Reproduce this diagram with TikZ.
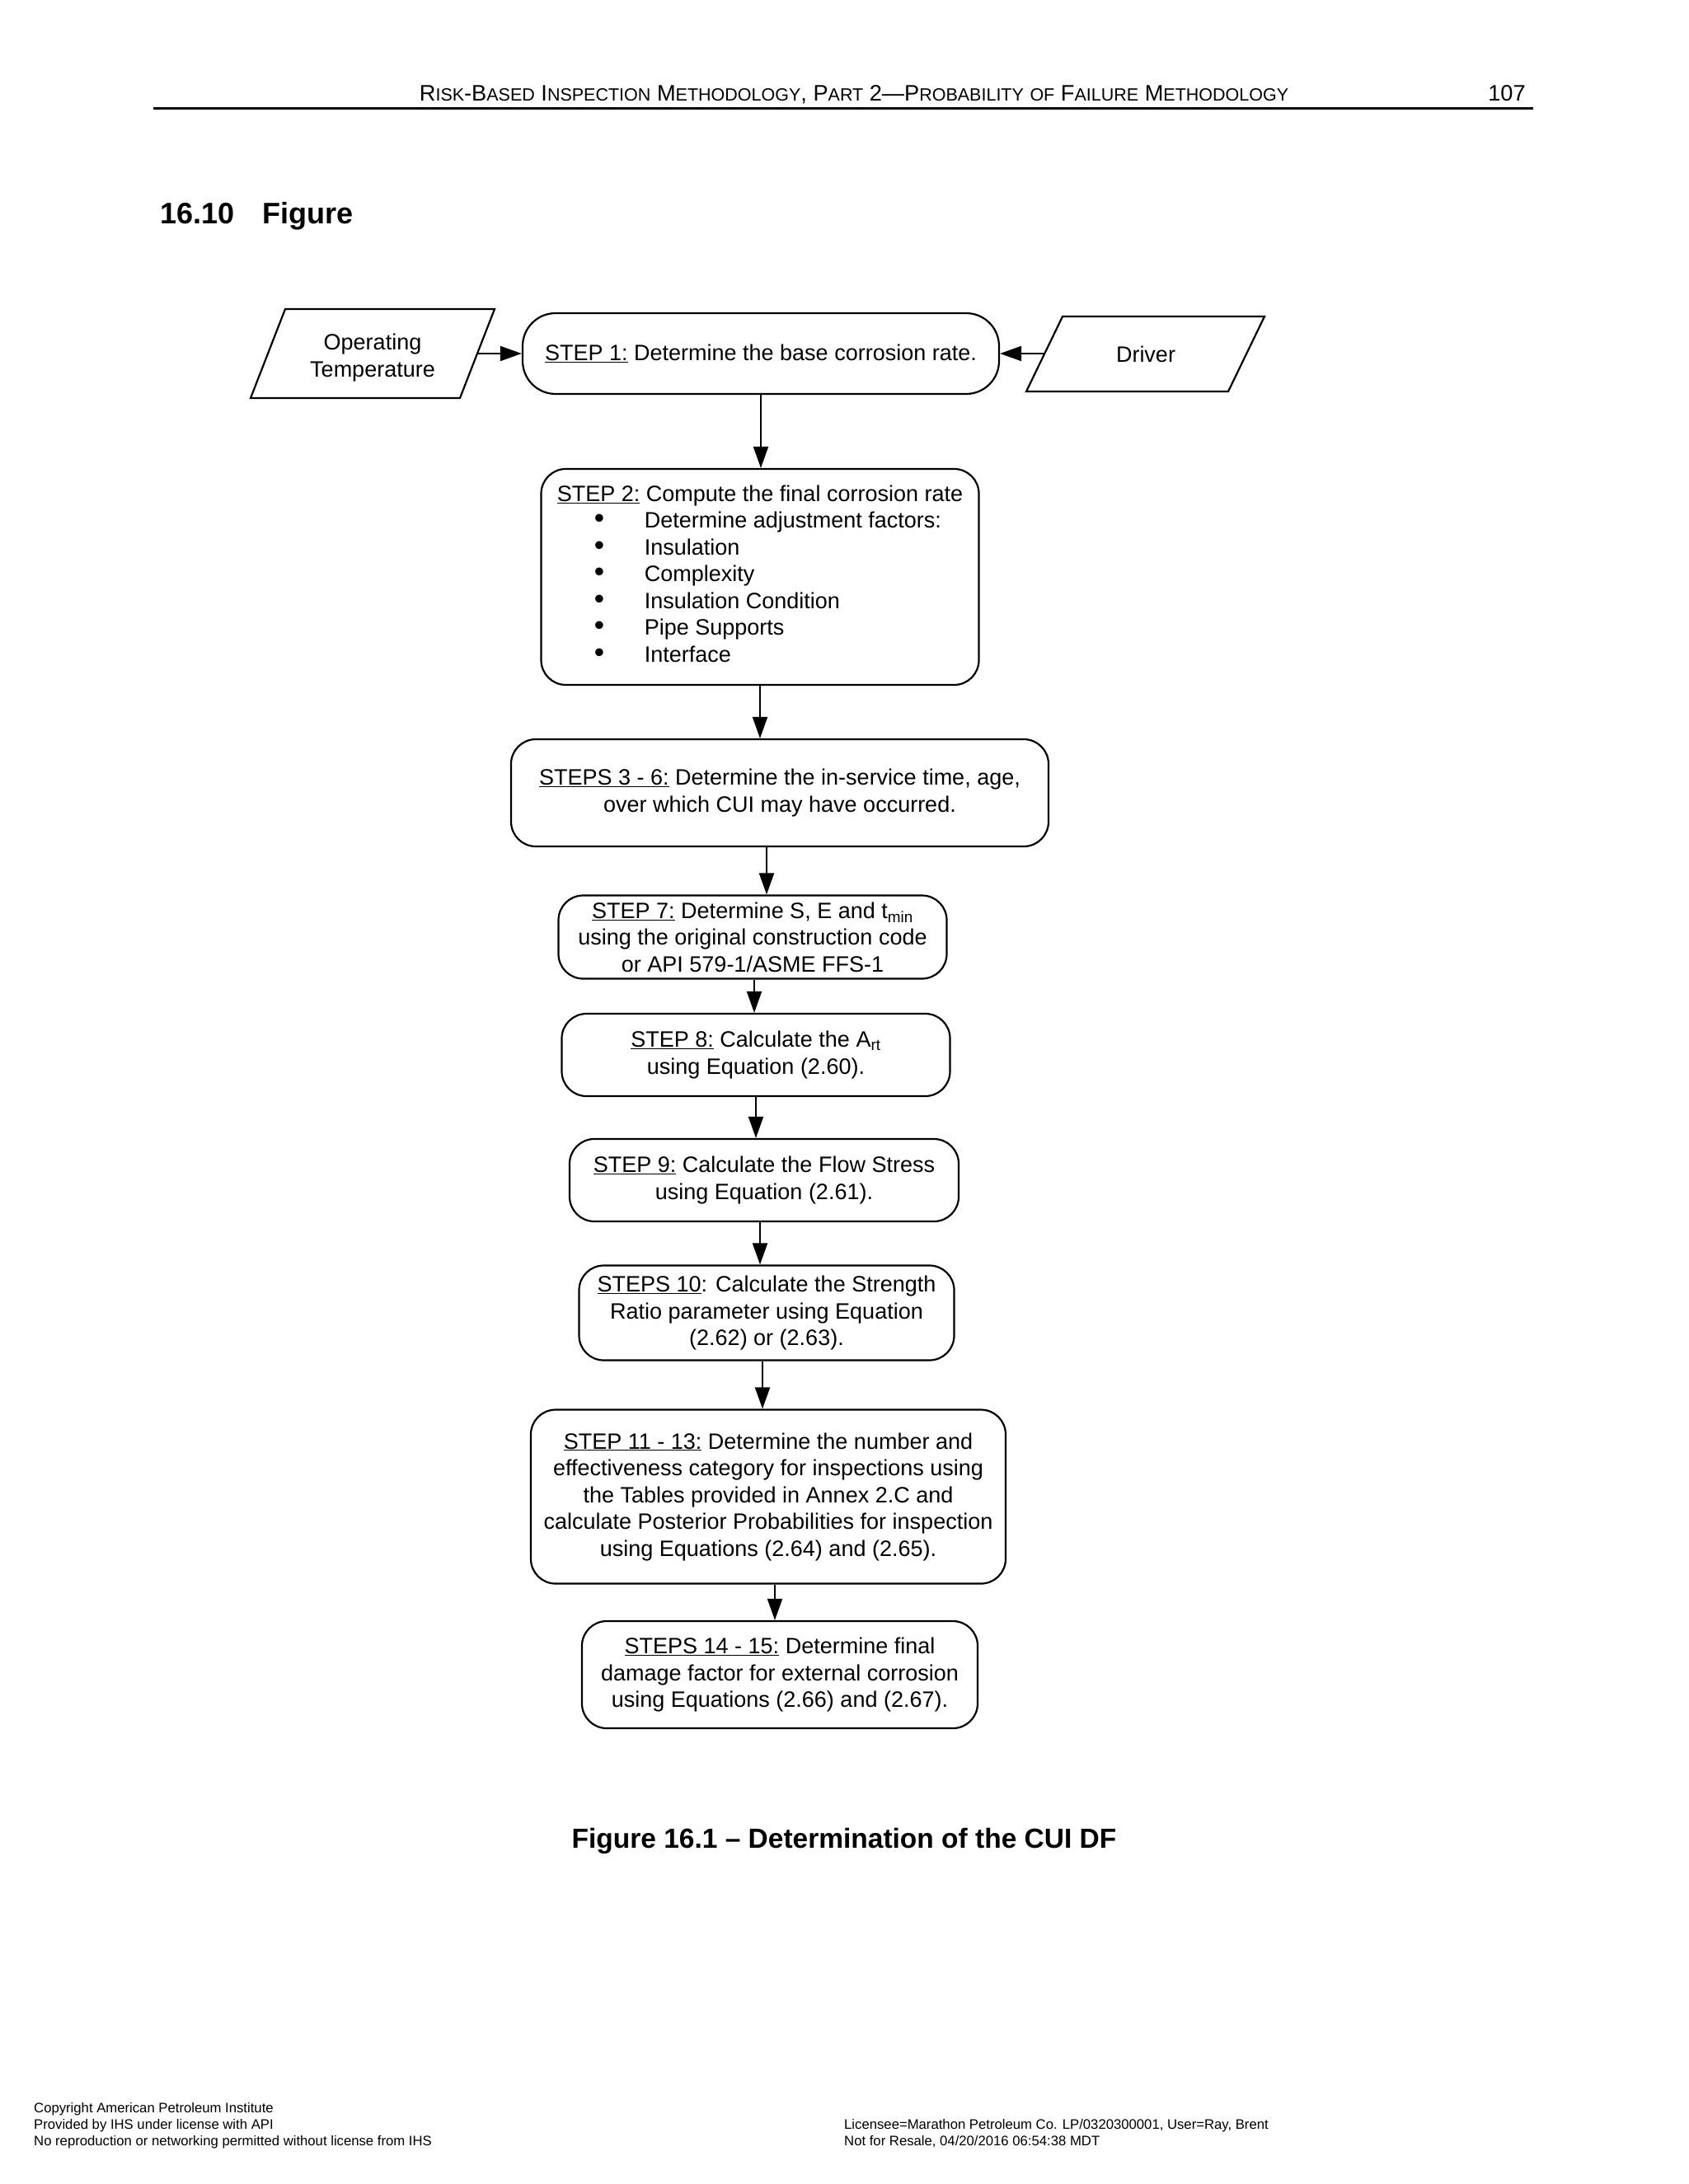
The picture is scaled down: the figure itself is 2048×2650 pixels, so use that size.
\documentclass[tikz,border=0pt]{standalone}
\usepackage{fontspec}
\setmainfont{Liberation Sans}
\usetikzlibrary{arrows.meta}
\newcommand\dfont{\fontsize{27}{32.5}\selectfont}
\newcommand\hb[1]{{\fontsize{27.2}{27.2}\selectfont #1}}
\newcommand\hs[1]{{\fontsize{21.5}{21.5}\selectfont #1}}
\newcommand\bul{\makebox[106pt][l]{\hspace*{45pt}\scalebox{1.3}{\textbullet}}}
\tikzset{
  stepbox/.style={draw, line width=2.2pt, rounded corners=30pt, align=center, font=\dfont, inner sep=0pt},
  para/.style={draw, line width=2.2pt, line join=miter},
  arr/.style={line width=2pt, -{Triangle[length=26pt,width=18pt]}},
  plain/.style={inner sep=0pt, align=center, font=\dfont},
}
\begin{document}
\begin{tikzpicture}[x=1pt,y=-1pt]
\useasboundingbox[fill=white] (0,0) rectangle (2048,2650);
% header
\node[inner sep=0pt, anchor=base] (hdr) at (1036,122) {\hb{R}\hs{ISK}\hb{-B}\hs{ASED}\hb{ I}\hs{NSPECTION}\hb{ M}\hs{ETHODOLOGY}\hb{, P}\hs{ART}\hb{ 2—P}\hs{ROBABILITY}\hb{ }\hs{OF}\hb{ F}\hs{AILURE}\hb{ M}\hs{ETHODOLOGY}};
\node[inner sep=0pt, anchor=base] (pg) at (1828,122) {\hb{107}};
\draw[line width=3pt] (186,131) -- (1860,131);
\node[inner sep=0pt, anchor=base west, font=\fontsize{36}{36}\selectfont\bfseries] (sec) at (194,271) {16.10\hspace{34pt}Figure};
% inputs
\draw[para] (346,375) -- (600,375) -- (558,483) -- (304,483) -- cycle;
\node[plain] (op) at (452,434) {Operating\\Temperature};
\coordinate (opE) at (579,429);
\draw[para] (1289,384) -- (1534,384) -- (1490,475) -- (1245,475) -- cycle;
\node[plain] (dr) at (1390,430) {Driver};
\coordinate (drW) at (1267,429);
% steps
\node[stepbox, rounded corners=40pt, minimum width=578pt, minimum height=98pt] (s1) at (923,429) {\underline{STEP 1:} Determine the base corrosion rate.};
\node[stepbox, minimum width=531pt, minimum height=262pt, align=left] (s2) at (922,700) {\underline{STEP 2:} Compute the final corrosion rate\\
\bul Determine adjustment factors:\\
\bul Insulation\\
\bul Complexity\\
\bul Insulation Condition\\
\bul Pipe Supports\\
\bul Interface\\[-24pt]\mbox{}};
\node[stepbox, minimum width=652pt, minimum height=130pt] (s36) at (946,962) {\underline{STEPS 3 - 6:} Determine the in-service time, age,\\over which CUI may have occurred.};
\node[stepbox, minimum width=471pt, minimum height=101pt] (s7) at (913,1137) {\underline{STEP 7:} Determine S, E and t\textsubscript{min}\\using the original construction code\\or API 579-1/ASME FFS-1};
\node[stepbox, minimum width=471pt, minimum height=100pt] (s8) at (917,1280) {\underline{STEP 8:} Calculate the A\textsubscript{rt}\\using Equation (2.60).};
\node[stepbox, minimum width=472pt, minimum height=100pt] (s9) at (927,1432) {\underline{STEP 9:} Calculate the Flow Stress\\using Equation (2.61).};
\node[stepbox, minimum width=455pt, minimum height=115pt] (s10) at (930,1593) {\underline{STEPS 10}: Calculate the Strength\\Ratio parameter using Equation\\(2.62) or (2.63).};
\node[stepbox, minimum width=576pt, minimum height=211pt] (s11) at (932,1816) {\underline{STEP 11 - 13:} Determine the number and\\effectiveness category for inspections using\\the Tables provided in Annex 2.C and\\calculate Posterior Probabilities for inspection\\using Equations (2.64) and (2.65).};
\node[stepbox, minimum width=480pt, minimum height=130pt] (s14) at (946,2032) {\underline{STEPS 14 - 15:} Determine final\\damage factor for external corrosion\\using Equations (2.66) and (2.67).};
% connectors
\draw[arr] (opE) -- (s1.west);
\draw[arr] (drW) -- (s1.east);
\draw[arr] (s1.south) -- (s1.south |- s2.north);
\draw[arr] (s2.south) -- (s2.south |- s36.north);
\draw[arr] ([xshift=-16pt]s36.south) -- ([xshift=-16pt]s36.south |- s7.north);
\draw[arr] ([xshift=2pt]s7.south) -- ([xshift=2pt]s7.south |- s8.north);
\draw[arr] (s8.south) -- (s8.south |- s9.north);
\draw[arr] ([xshift=-5pt]s9.south) -- ([xshift=-5pt]s9.south |- s10.north);
\draw[arr] ([xshift=-5pt]s10.south) -- ([xshift=-5pt]s10.south |- s11.north);
\draw[arr] ([xshift=8pt]s11.south) -- ([xshift=8pt]s11.south |- s14.north);
% caption
\node[inner sep=0pt, font=\fontsize{33.5}{33.5}\selectfont\bfseries] (cap) at (1024,2234) {Figure 16.1 – Determination of the CUI DF};
% footer
\node[inner sep=0pt, anchor=base west, align=left, font=\fontsize{16.7}{20}\selectfont] (fl) at (41,2603) {Copyright American Petroleum Institute\\Provided by IHS under license with API\\No reproduction or networking permitted without license from IHS};
\node[inner sep=0pt, anchor=base west, align=left, font=\fontsize{16.7}{20}\selectfont] (fr) at (1024,2603) {Licensee=Marathon Petroleum Co. LP/0320300001, User=Ray, Brent\\Not for Resale, 04/20/2016 06:54:38 MDT};
\end{tikzpicture}
\end{document}
